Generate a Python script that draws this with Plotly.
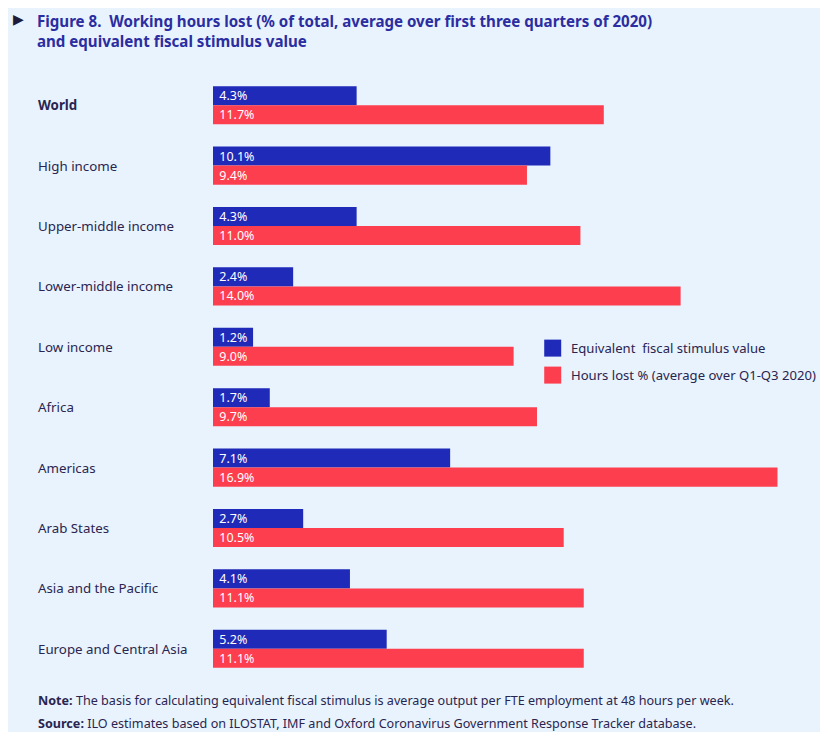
import plotly.graph_objects as go

categories = ["World", "High income", "Upper-middle income", "Lower-middle income",
              "Low income", "Africa", "Americas", "Arab States",
              "Asia and the Pacific", "Europe and Central Asia"]
fiscal_stimulus = [4.3, 10.1, 4.3, 2.4, 1.2, 1.7, 7.1, 2.7, 4.1, 5.2]
hours_lost = [11.7, 9.4, 11.0, 14.0, 9.0, 9.7, 16.9, 10.5, 11.1, 11.1]

series_names = ["Equivalent  fiscal stimulus value", "Hours lost % (average over Q1-Q3 2020)"]

BLUE = "#1F2AB9"
RED = "#FD3E4E"
PANEL = "#E8F3FD"
TEXT = "#2A2550"
TITLE = "#2B2DA0"

# page body has an 8px margin: design in reference (page) pixels, shifted by OFF
OFF = 8
W, H = 828 - 2 * OFF, 740 - 2 * OFF
ZERO_X = 212.5 - OFF          # x of value 0 in figure pixels
PX_PER_UNIT = 33.43
PLOT_RIGHT = 798 - OFF
TOP, BOTTOM = 74.8 - OFF, 679 - OFF
L = ZERO_X
R = W - PLOT_RIGHT
T = TOP
B = H - BOTTOM
pw = PLOT_RIGHT - ZERO_X
ph = BOTTOM - TOP


def px_x(p):
    return (p - OFF - L) / pw


def px_y(p):
    return (H - B - (p - OFF)) / ph


fig = go.Figure()
for i, (name, vals, col) in enumerate([(series_names[0], fiscal_stimulus, BLUE),
                                       (series_names[1], hours_lost, RED)]):
    fig.add_trace(go.Bar(
        y=categories, x=vals, name=name, orientation="h",
        marker=dict(color=col, line=dict(width=0)),
        texttemplate="\u00a0%{x:.1f}%", textposition="inside", insidetextanchor="start",
        constraintext="none",
        textfont=dict(color="white", size=12.5, family="Noto Sans"),
        hoverinfo="skip", showlegend=False,
    ))

annotations = []
for c in categories:
    annotations.append(dict(
        x=px_x(35), xref="paper", y=c, yref="y", xanchor="left", yanchor="middle",
        text=("<b>%s</b>" % c) if c == "World" else c, showarrow=False,
        font=dict(size=13.3, color=TEXT, family="Noto Sans"),
    ))

annotations.append(dict(
    x=px_x(34), xref="paper", y=px_y(9), yref="paper", xanchor="left", yanchor="top",
    text="<b>Figure 8.  Working hours lost (% of total, average over first three quarters of 2020)<br>and equivalent fiscal stimulus value</b>",
    showarrow=False, align="left", font=dict(size=15.1, color=TITLE, family="Noto Sans"),
))
annotations.append(dict(
    x=px_x(10), xref="paper", y=px_y(19), yref="paper", xanchor="left", yanchor="middle",
    text="▶", showarrow=False, font=dict(size=14, color="#1E1A3A", family="DejaVu Sans"),
))
annotations.append(dict(
    x=px_x(35), xref="paper", y=px_y(701), yref="paper", xanchor="left", yanchor="middle",
    text="<b>Note:</b> The basis for calculating equivalent fiscal stimulus is average output per FTE employment at 48 hours per week.",
    showarrow=False, font=dict(size=12.6, color=TEXT, family="Noto Sans"),
))
annotations.append(dict(
    x=px_x(35), xref="paper", y=px_y(723.5), yref="paper", xanchor="left", yanchor="middle",
    text="<b>Source:</b> ILO estimates based on ILOSTAT, IMF and Oxford Coronavirus Government Response Tracker database.",
    showarrow=False, font=dict(size=12.6, color=TEXT, family="Noto Sans"),
))

shapes = [dict(type="rect", xref="paper", yref="paper",
               x0=px_x(10), x1=px_x(850), y0=px_y(760), y1=px_y(5),
               fillcolor=PANEL, line=dict(width=0), layer="below")]

# manual legend (square swatches + labels)
legend_rows = [348, 375]
for name, col, yc in zip(series_names, [BLUE, RED], legend_rows):
    shapes.append(dict(type="rect", xref="paper", yref="paper",
                       x0=px_x(544), x1=px_x(561), y0=px_y(yc + 8.5), y1=px_y(yc - 8.5),
                       fillcolor=col, line=dict(width=0)))
    annotations.append(dict(
        x=px_x(569), xref="paper", y=px_y(yc), yref="paper", xanchor="left", yanchor="middle",
        text=name, showarrow=False, font=dict(size=13.1, color=TEXT, family="Noto Sans"),
    ))

fig.update_layout(
    width=W, height=H, autosize=False,
    margin=dict(l=L, r=R, t=T, b=B, pad=0),
    paper_bgcolor=PANEL, plot_bgcolor=PANEL,
    barmode="group", bargap=0.37, bargroupgap=0,
    xaxis=dict(range=[0, pw / PX_PER_UNIT], visible=False, fixedrange=True),
    yaxis=dict(autorange="reversed", showticklabels=False, showgrid=False, zeroline=False,
               showline=False, ticks=""),
    annotations=annotations, shapes=shapes,
    showlegend=False,
)

fig.write_html("out.html")
